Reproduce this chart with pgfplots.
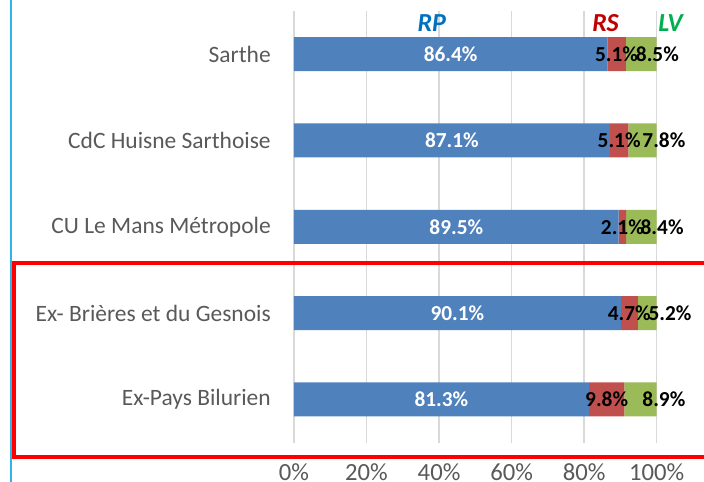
\documentclass[border=0pt]{standalone}
\usepackage{fontspec}
\setmainfont{Carlito}
\usepackage{pgfplots}
\pgfplotsset{compat=1.18}
\definecolor{barblue}{HTML}{4F81BD}
\definecolor{barred}{HTML}{C0504D}
\definecolor{bargreen}{HTML}{9BBB59}
\definecolor{rpblue}{HTML}{0070C0}
\definecolor{rsred}{HTML}{C00000}
\definecolor{lvgreen}{HTML}{00B050}
\definecolor{textgrey}{HTML}{595959}
\definecolor{gridgrey}{HTML}{D9D9D9}
\definecolor{lineblue}{HTML}{2FB3E8}
\pgfplotstableread{
x y label
43.2 0 86.4\%
43.55 1 87.1\%
44.75 2 89.5\%
45.05 3 90.1\%
40.65 4 81.3\%
}\rplabels
\pgfplotstableread{
x y label
88.95 0 5.1\%
89.65 1 5.1\%
90.55 2 2.1\%
92.45 3 4.7\%
86.2 4 9.8\%
}\rslabels
\pgfplotstableread{
x y label
100.2 0 8.5\%
102.0 1 7.8\%
101.5 2 8.4\%
103.7 3 5.2\%
102.0 4 8.9\%
}\lvlabels
\begin{document}
\begin{tikzpicture}[x=0.75pt,y=0.75pt]
\clip (0,0) rectangle (704,482);
\draw[lineblue, line width=1.5pt] (11,0) -- (11,482);
\begin{axis}[
  at={(220.5pt,29.625pt)}, anchor=south west,
  scale only axis, width=272.0pt, height=323.6pt,
  xbar stacked, bar width=0.394,
  xmin=0, xmax=100, ymin=-0.5, ymax=4.5, y dir=reverse,
  ytick={0,1,2,3,4},
  yticklabels={Sarthe, CdC Huisne Sarthoise, CU Le Mans Métropole, Ex- Brières et du Gesnois, Ex-Pays Bilurien},
  xtick={0,20,40,60,80,100},
  xticklabel={\pgfmathprintnumber{\tick}\%},
  /pgf/number format/assume math mode=true,
  xmajorgrids, ymajorgrids=false,
  major grid style={gridgrey, line width=1.2pt},
  axis line style={draw=none},
  major tick length=0pt,
  tick label style={text=textgrey},
  xticklabel style={font=\fontsize{18.5}{20}\selectfont, anchor=north, inner sep=0pt, yshift=-15.5pt},
  yticklabel style={font=\fontsize{17.6}{20}\selectfont, anchor=east, inner sep=0pt, xshift=-17.25pt},
  clip=false,
]
\addplot[fill=barblue, draw=none] coordinates {(86.4,0) (87.1,1) (89.5,2) (90.1,3) (81.3,4)};
\addplot[fill=barred, draw=none] coordinates {(5.1,0) (5.1,1) (2.1,2) (4.7,3) (9.8,4)};
\addplot[fill=bargreen, draw=none] coordinates {(8.5,0) (7.8,1) (8.4,2) (5.2,3) (8.9,4)};
\end{axis}
\begin{axis}[
  at={(220.5pt,29.625pt)}, anchor=south west,
  scale only axis, width=272.0pt, height=323.6pt,
  hide axis, xmin=0, xmax=100, ymin=-0.5, ymax=4.5, y dir=reverse,
  clip=false,
]
\addplot[draw=none, mark=none, nodes near coords, point meta=explicit symbolic,
  every node near coord/.style={anchor=center, inner sep=0pt, text=white, font=\bfseries\fontsize{16}{18}\selectfont}]
  table[x=x, y=y, meta=label] {\rplabels};
\addplot[draw=none, mark=none, nodes near coords, point meta=explicit symbolic,
  every node near coord/.style={anchor=center, inner sep=0pt, text=black, font=\bfseries\fontsize{16}{18}\selectfont}]
  table[x=x, y=y, meta=label] {\rslabels};
\addplot[draw=none, mark=none, nodes near coords, point meta=explicit symbolic,
  every node near coord/.style={anchor=center, inner sep=0pt, text=black, font=\bfseries\fontsize{16}{18}\selectfont}]
  table[x=x, y=y, meta=label] {\lvlabels};
\node[font=\bfseries\itshape\fontsize{19.5}{22}\selectfont, text=rpblue, inner sep=0pt] at (axis cs:38,-0.365) {RP};
\node[font=\bfseries\itshape\fontsize{19.5}{22}\selectfont, text=rsred, inner sep=0pt] at (axis cs:85.9,-0.365) {RS};
\node[font=\bfseries\itshape\fontsize{19.5}{22}\selectfont, text=lvgreen, inner sep=0pt] at (axis cs:103.8,-0.365) {LV};
\end{axis}
\draw[red, line width=3.4pt, line join=miter] (730,219) -- (14,219) -- (14,25) -- (730,25);
\end{tikzpicture}
\end{document}
